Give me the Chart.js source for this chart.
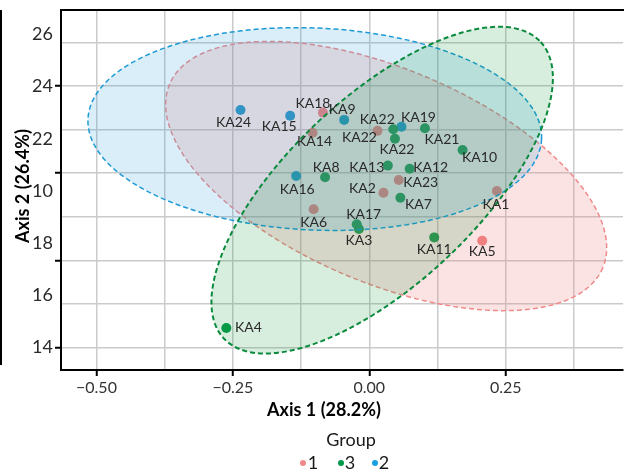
<!DOCTYPE html>
<html>
<head>
<meta charset="utf-8">
<script src="https://cdn.jsdelivr.net/npm/chart.js@4.4.1/dist/chart.umd.min.js"></script>
<style>
  html, body { margin: 0; padding: 0; background: #fff; }
  #wrap { position: relative; width: 628px; height: 472px; overflow: hidden; font-family: Lato, sans-serif; }
  #chart { position: absolute; left: 0; top: 0; }
  .txt { position: absolute; white-space: nowrap; line-height: 1; transform: translate(-50%, -50%); color: #1a1a1a; }
  .bold { font-weight: bold; font-size: 18px; color: #000; }
  .leg { font-size: 18px; }
  .dot { position: absolute; width: 6px; height: 6px; border-radius: 50%; transform: translate(-50%, -50%); }
  #edge { position: absolute; left: -2px; top: 10px; width: 4px; height: 355px; border: 2px solid #000; box-sizing: border-box; }
</style>
</head>
<body>
<div id="wrap">
  <canvas id="chart" width="628" height="472"></canvas>
  <div id="edge"></div>
  <div class="txt bold" style="left:22px; top:186px; transform: translate(-50%, -50%) rotate(-90deg);">Axis 2 (26.4%)</div>
  <div class="txt bold" style="left:324px; top:409px;">Axis 1 (28.2%)</div>
  <div class="txt leg" style="left:351px; top:439px;">Group</div>
  <div class="dot" style="left:303px; top:463px; background:#f08a8a;"></div>
  <div class="txt leg" style="left:313px; top:462px;">1</div>
  <div class="dot" style="left:341px; top:463px; background:#00994a;"></div>
  <div class="txt leg" style="left:350px; top:462px;">3</div>
  <div class="dot" style="left:375px; top:463px; background:#1a9fe0;"></div>
  <div class="txt leg" style="left:384px; top:462px;">2</div>
</div>
<script>
// group 1
const grp1Names = ['KA18', 'KA14', 'KA6', 'KA22', 'KA23', 'KA2', 'KA1', 'KA5'];
const grp1X = [-0.085, -0.104, -0.102, 0.015, 0.054, 0.026, 0.234, 0.207];
const grp1Y = [23.00, 22.23, 19.30, 22.30, 20.42, 19.93, 20.00, 18.09];
// group 3
const grp3Names = ['KA8', 'KA22', 'KA22', 'KA21', 'KA10', 'KA13', 'KA12', 'KA7', 'KA17', 'KA3', 'KA11', 'KA4'];
const grp3X = [-0.081, 0.044, 0.047, 0.102, 0.171, 0.034, 0.074, 0.057, -0.023, -0.019, 0.119, -0.262];
const grp3Y = [20.52, 22.36, 22.00, 22.40, 21.57, 20.97, 20.85, 19.74, 18.72, 18.54, 18.22, 14.75];
// group 2
const grp2Names = ['KA24', 'KA15', 'KA9', 'KA16', 'KA19'];
const grp2X = [-0.236, -0.145, -0.046, -0.134, 0.059];
const grp2Y = [23.10, 22.88, 22.72, 20.57, 22.46];

// ellipses: centre x, centre y, then two semi-axis vectors (x, y)
const grp1Ellipse = [0.0309, 20.57, 0.3972, -3.506, -0.0750, -3.782];
const grp3Ellipse = [0.0236, 20.03, 0.2906, 5.674, 0.1161, -2.643];
const grp2Ellipse = [-0.0999, 22.37, 0.4157, -0.383, -0.0080, -3.866];

// tick labels
const xTickValues = [-0.5, -0.25, 0, 0.25];
const xTickLabels = ['\u22120.50', '\u22120.25', '0.00', '0.25'];
const yTickValues = [14, 16, 18, 20, 22, 24, 26];
const yTickLabels = ['14', '16', '18', '10', '22', '24', '26'];

// where each label sits next to its point (px)
const grp1Nudge = [[-10, -9], [2, 9], [0, 13], [-18, 7], [22, 3], [-21, -4], [-1, 14], [0, 11]];
const grp3Nudge = [[1, -10], [-16, -10], [2, 11], [17, 11], [17, 8], [-21, 2], [21, -1], [18, 7], [7, -10], [0, 11], [0, 12], [22, 0]];
const grp2Nudge = [[-7, 12], [-11, 11], [-2, -10], [1, 13], [17, -9]];

const toPoints = (xs, ys) => xs.map((x, i) => ({ x: x, y: ys[i] }));

function ellipseOutline(e) {
    const pts = [];
    for (let k = 0; k <= 144; k++) {
        const t = k / 144 * 2 * Math.PI;
        pts.push({
            x: e[0] + e[2] * Math.cos(t) + e[4] * Math.sin(t),
            y: e[1] + e[3] * Math.cos(t) + e[5] * Math.sin(t)
        });
    }
    return pts;
}

function ellipseSet(e, stroke, fill, width, order) {
    return {
        data: ellipseOutline(e),
        showLine: true,
        fill: 'shape',
        backgroundColor: fill,
        borderColor: stroke,
        borderWidth: width,
        borderDash: [5, 3],
        pointRadius: 0,
        tension: 0,
        order: order
    };
}

function pointSet(names, xs, ys, nudge, color) {
    return {
        names: names,
        nudge: nudge,
        data: toPoints(xs, ys),
        backgroundColor: color,
        borderWidth: 0,
        pointRadius: 5,
        order: 10
    };
}

const datasets = [
    pointSet(grp1Names, grp1X, grp1Y, grp1Nudge, '#f08080'),
    pointSet(grp3Names, grp3X, grp3Y, grp3Nudge, '#009a48'),
    pointSet(grp2Names, grp2X, grp2Y, grp2Nudge, '#0099d2'),
    ellipseSet(grp1Ellipse, '#f08a8a', 'rgba(240,128,128,0.22)', 1.5, 3),
    ellipseSet(grp2Ellipse, '#1d9ad6', 'rgba(30,155,220,0.17)', 1.5, 2),
    ellipseSet(grp3Ellipse, '#0a8a3c', 'rgba(20,150,60,0.17)', 2, 1)
];

const pointLabels = {
    id: 'pointLabels',
    afterDatasetsDraw(chart) {
        const c = chart.ctx;
        c.save();
        c.font = '14px Lato';
        c.fillStyle = '#2a2a2a';
        c.textAlign = 'center';
        c.textBaseline = 'middle';
        chart.data.datasets.forEach((ds, i) => {
            if (!ds.names) return;
            chart.getDatasetMeta(i).data.forEach((pt, j) => {
                c.fillText(ds.names[j], pt.x + ds.nudge[j][0], pt.y + ds.nudge[j][1]);
            });
        });
        c.restore();
    }
};

const near = (a, b) => Math.abs(a - b) < 1e-9;
const noPad = s => { s.paddingTop = 0; s.paddingBottom = 0; s.paddingLeft = 0; s.paddingRight = 0; };

Chart.defaults.font.family = 'Lato';

new Chart(document.getElementById('chart').getContext('2d'), {
    type: 'scatter',
    data: { datasets },
    plugins: [pointLabels],
    options: {
        responsive: false,
        animation: false,
        layout: { padding: { top: 10, right: 0, bottom: 0, left: 0 } },
        plugins: {
            legend: { display: false },
            tooltip: { enabled: false }
        },
        scales: {
            x: {
                type: 'linear',
                min: -0.565,
                max: 0.465,
                afterBuildTicks: s => {
                    const v = [-0.5, -0.375, -0.25, -0.125, 0, 0.125, 0.25, 0.375];
                    s.ticks = v.map(value => ({ value }));
                },
                afterFit: s => { s.height = 102; noPad(s); },
                ticks: {
                    autoSkip: false,
                    maxRotation: 0,
                    padding: 2,
                    color: '#333',
                    font: { size: 16 },
                    callback: v => {
                        const i = xTickValues.findIndex(t => near(t, v));
                        return i >= 0 ? xTickLabels[i] : '';
                    }
                },
                grid: {
                    color: '#cbcbcb',
                    lineWidth: 1.5,
                    tickLength: 6,
                    tickWidth: 2,
                    tickColor: c => xTickValues.some(t => near(t, c.tick.value)) ? '#000' : 'rgba(0,0,0,0)'
                },
                border: { display: true, color: '#000', width: 2 }
            },
            xTop: {
                type: 'linear',
                position: 'top',
                min: -0.565,
                max: 0.465,
                afterFit: s => { s.height = 0; noPad(s); },
                ticks: { display: false },
                grid: { display: false, drawTicks: false },
                border: { display: true, color: '#000', width: 2 }
            },
            y: {
                type: 'linear',
                position: 'left',
                weight: 1,
                min: 13.14,
                max: 26.93,
                afterBuildTicks: s => { s.ticks = yTickValues.map(value => ({ value })); },
                afterFit: s => { s.width = 61; noPad(s); },
                ticks: {
                    padding: 8,
                    color: '#2a2a2a',
                    font: { size: 18 },
                    callback: v => {
                        const i = yTickValues.findIndex(t => near(t, v));
                        return i >= 0 ? yTickLabels[i] : '';
                    }
                },
                grid: { display: false, drawTicks: false },
                border: { display: false }
            },
            yGrid: {
                type: 'linear',
                position: 'left',
                weight: 0,
                min: -0.516,
                max: 7.741,
                afterBuildTicks: s => { s.ticks = [0, 1, 2, 3, 4, 5, 6, 7].map(value => ({ value })); },
                afterFit: s => { s.width = 0; noPad(s); },
                ticks: { display: false },
                grid: {
                    color: '#cbcbcb',
                    lineWidth: 1.5,
                    tickLength: 6,
                    tickWidth: 2,
                    tickColor: c => c.tick.value % 2 === 0 ? '#000' : 'rgba(0,0,0,0)'
                },
                border: { display: true, color: '#000', width: 2 }
            }
        }
    }
});
</script>
</body>
</html>
